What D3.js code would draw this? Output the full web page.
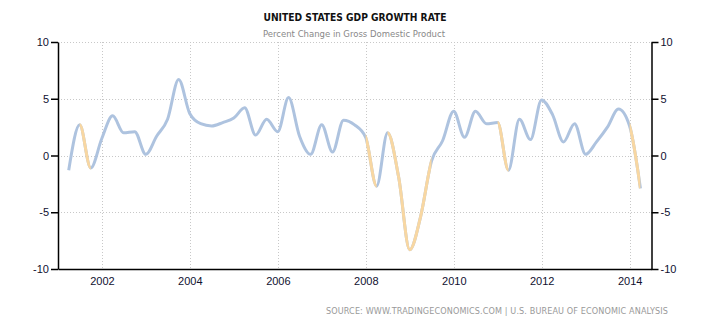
<!DOCTYPE html>
<html>
<head>
<meta charset="utf-8">
<script src="https://cdn.jsdelivr.net/npm/d3@7"></script>
<style>
  body { margin: 0; background: #fff; }
  svg { display: block; font-family: Tahoma, "DejaVu Sans Condensed", "Liberation Sans Narrow", sans-serif; }
  .axis path, .axis line { stroke: #000; stroke-width: 1.5; }
  .axis text { fill: #101030; font-size: 11px; }
  .grid line { stroke: #c8c8c8; stroke-width: 1; stroke-dasharray: 1,2; }
</style>
</head>
<body>
<svg id="chart" width="710" height="325"></svg>
<script>
// quarterly real GDP growth, annualized, quarter-end dates
const quarters = [
  '2001-03-31', '2001-06-30', '2001-09-30', '2001-12-31',
  '2002-03-31', '2002-06-30', '2002-09-30', '2002-12-31',
  '2003-03-31', '2003-06-30', '2003-09-30', '2003-12-31',
  '2004-03-31', '2004-06-30', '2004-09-30', '2004-12-31',
  '2005-03-31', '2005-06-30', '2005-09-30', '2005-12-31',
  '2006-03-31', '2006-06-30', '2006-09-30', '2006-12-31',
  '2007-03-31', '2007-06-30', '2007-09-30', '2007-12-31',
  '2008-03-31', '2008-06-30', '2008-09-30', '2008-12-31',
  '2009-03-31', '2009-06-30', '2009-09-30', '2009-12-31',
  '2010-03-31', '2010-06-30', '2010-09-30', '2010-12-31',
  '2011-03-31', '2011-06-30', '2011-09-30', '2011-12-31',
  '2012-03-31', '2012-06-30', '2012-09-30', '2012-12-31',
  '2013-03-31', '2013-06-30', '2013-09-30', '2013-12-31',
  '2014-03-31'
];

const growth = [
  -1.3, 2.7, -1.1, 1.5,
  3.5, 2.0, 2.1, 0.1,
  1.7, 3.2, 6.7, 3.7,
  2.8, 2.6, 2.9, 3.3,
  4.2, 1.8, 3.2, 2.1,
  5.1, 1.7, 0.1, 2.7,
  0.3, 3.1, 2.7, 1.6,
  -2.7, 2.0, -1.9, -8.3,
  -5.4, -0.5, 1.3, 3.9,
  1.6, 3.9, 2.8, 2.9,
  -1.3, 3.2, 1.4, 4.9,
  3.6, 1.2, 2.8, 0.1,
  1.2, 2.5, 4.1, 2.6,
  -2.9
];

const yTicks = [-10, -5, 0, 5, 10];
const xTickYears = [2002, 2004, 2006, 2008, 2010, 2012, 2014];

const parse = d3.timeParse('%Y-%m-%d');
const data = quarters.map((q, i) => ({ date: parse(q), value: growth[i] }));

const svg = d3.select('#chart');

const x = d3.scaleTime()
  .domain([new Date(2001, 0, 1), new Date(2014, 6, 1)])
  .range([58, 651.5]);

const y = d3.scaleLinear()
  .domain([-10, 10])
  .range([269, 42]);

// titles
svg.append('text')
  .attr('x', 355).attr('y', 21)
  .attr('text-anchor', 'middle')
  .attr('font-size', 11).attr('font-weight', 'bold')
  .attr('fill', '#111')
  .attr('textLength', 183).attr('lengthAdjust', 'spacingAndGlyphs')
  .text('UNITED STATES GDP GROWTH RATE');

svg.append('text')
  .attr('x', 354).attr('y', 37)
  .attr('text-anchor', 'middle')
  .attr('font-size', 9)
  .attr('fill', '#888')
  .attr('textLength', 182).attr('lengthAdjust', 'spacingAndGlyphs')
  .text('Percent Change in Gross Domestic Product');

// grid
const grid = svg.append('g').attr('class', 'grid');
grid.selectAll('.hgrid')
  .data(yTicks.filter((d) => d > -10))
  .enter().append('line')
  .attr('x1', x.range()[0]).attr('x2', x.range()[1])
  .attr('y1', (d) => Math.round(y(d)) + 0.5)
  .attr('y2', (d) => Math.round(y(d)) + 0.5);

grid.selectAll('.vgrid')
  .data(xTickYears)
  .enter().append('line')
  .attr('x1', (d) => Math.round(x(new Date(d, 0, 1))) + 0.5)
  .attr('x2', (d) => Math.round(x(new Date(d, 0, 1))) + 0.5)
  .attr('y1', y(10)).attr('y2', y(-10));

// line, blue with orange stretches leading into negative quarters
const line = d3.line()
  .x((d) => x(d.date))
  .y((d) => y(d.value))
  .curve(d3.curveMonotoneX);

const clip = svg.append('clipPath').attr('id', 'neg-clip');
data.forEach((d, i) => {
  if (i > 0 && d.value < 0) {
    clip.append('rect')
      .attr('x', x(data[i - 1].date))
      .attr('width', x(d.date) - x(data[i - 1].date))
      .attr('y', 0).attr('height', 325);
  }
});

svg.append('path')
  .datum(data)
  .attr('fill', 'none')
  .attr('stroke', '#aec3df')
  .attr('stroke-width', 3)
  .attr('stroke-linejoin', 'round')
  .attr('d', line);

svg.append('path')
  .datum(data)
  .attr('fill', 'none')
  .attr('stroke', '#f8d7a2')
  .attr('stroke-width', 3)
  .attr('stroke-linejoin', 'round')
  .attr('clip-path', 'url(#neg-clip)')
  .attr('d', line);

// axes (plain hyphen for negatives)
const plain = (d) => String(d);

svg.append('g')
  .attr('class', 'axis')
  .attr('transform', 'translate(58,0)')
  .call(d3.axisLeft(y).tickValues(yTicks).tickFormat(plain).tickSize(7).tickSizeOuter(0).tickPadding(2));

svg.append('g')
  .attr('class', 'axis')
  .attr('transform', 'translate(651.5,0)')
  .call(d3.axisRight(y).tickValues(yTicks).tickFormat(plain).tickSize(7).tickSizeOuter(0).tickPadding(2));

svg.append('g')
  .attr('class', 'axis')
  .attr('transform', 'translate(0,269)')
  .call(d3.axisBottom(x)
    .tickValues(xTickYears.map((yr) => new Date(yr, 0, 1)))
    .tickFormat(d3.timeFormat('%Y'))
    .tickSize(0).tickSizeOuter(0).tickPadding(8));

// source note
svg.append('text')
  .attr('x', 668).attr('y', 314)
  .attr('text-anchor', 'end')
  .attr('font-size', 9)
  .attr('fill', '#999')
  .attr('textLength', 342).attr('lengthAdjust', 'spacing')
  .text('SOURCE: WWW.TRADINGECONOMICS.COM  |  U.S. BUREAU OF ECONOMIC ANALYSIS');
</script>
</body>
</html>
